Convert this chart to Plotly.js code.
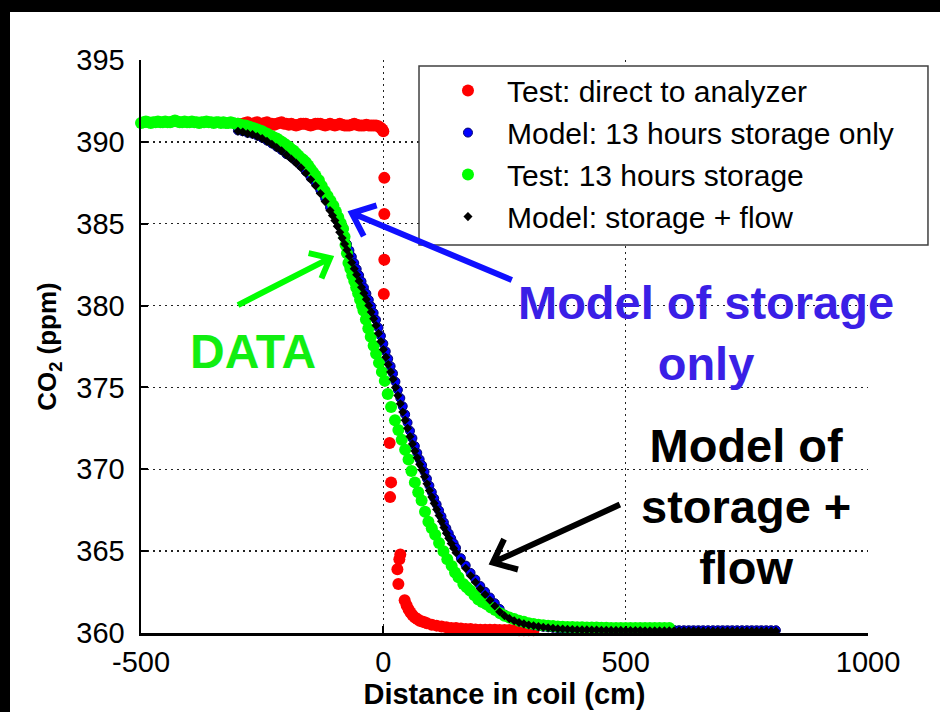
<!DOCTYPE html>
<html>
<head>
<meta charset="utf-8">
<script src="https://cdn.plot.ly/plotly-3.0.1.min.js"></script>
<style>
html,body{margin:0;padding:0;background:#000;width:940px;height:712px;overflow:hidden;}
#chart{position:absolute;left:10px;top:12px;width:930px;height:700px;background:#fff;}
</style>
</head>
<body>
<div id="chart"></div>
<script>
// ---- data ----
const redX = [-300,-295,-290,-285,-280,-275,-270,-265,-260,-255,-250,-245,-240,-235,-230,-225,-220,-215,-210,-205,
  -200,-195,-190,-185,-180,-175,-170,-165,-160,-155,-150,-145,-140,-135,-130,-125,-120,-115,-110,-105,
  -100,-95,-90,-85,-80,-75,-70,-65,-60,-55,-50,-45,-40,-35,-30,-25,-20,-15,-10,-5,-2,0,
  2,2,2,1,13,16,14,35,33,29,31,44,
  48,52,56,60,65,70,75,80,85,90,100,110,120,130,140,150,160,170,180,190,200,210,220,230,240,250,260,270,280,290,300,310];
const redY = [391.1,391.05,391.1,391.15,391.2,391.1,391.1,391.15,391.2,391.1,391.1,391.15,391.2,391.1,391.1,391.05,391.1,391.15,391.2,391.1,
  391.1,391.05,391.1,391.05,391.0,391.05,391.1,391.1,391.1,391.05,391.0,391.05,391.1,391.1,391.1,391.05,391.0,391.05,391.1,391.05,
  391.0,391.05,391.1,391.05,391.0,391.0,391.0,391.05,391.1,391.05,391.0,391.0,391.0,391.05,391.0,391.0,391.0,391.0,390.95,390.85,390.75,390.65,
  387.8,385.6,382.8,380.7,371.6,369.2,368.3,364.8,364.5,363.9,363.0,362.0,
  361.7,361.45,361.25,361.1,360.95,360.85,360.75,360.7,360.65,360.6,360.5,360.45,360.4,360.35,360.3,360.3,360.28,360.25,360.25,360.22,360.2,360.2,360.2,360.2,360.18,360.18,360.18,360.18,360.17,360.17,360.17,360.17];

const greenX = [-500,-495,-490,-485,-480,-475,-470,-465,-460,-455,-450,-445,-440,-435,-430,-425,-420,-415,-410,-405,
  -400,-395,-390,-385,-380,-375,-370,-365,-360,-355,-350,-345,-340,-335,-330,-325,-320,-315,-310,-305,-300,
  -295,-290,-285,-280,-275,-270,-265,-260,-255,-250,-245,-240,-235,-230,-225,-220,-215,-210,-205,-200,
  -195,-190,-185,-180,-175,-170,-165,-160,-155,-150,-145,
  -140,-133,-127,-121,-115,-109,-103,-98,-93,-88,-83,-80,-78,-75,-72,-68,-64,-60,-56,-52,-48,-44,-41,-36,-31,-26,-20,-15,-9,-3,
  3,9,16,24,31,38,45,52,58,65,72,79,86,93,100,107,115,124,132,141,148,155,165,172,179,188,196,204,213,222,231,241,250,
  260,270,280,290,300,310,320,330,340,350,360,370,380,390,400,410,420,430,440,450,460,470,480,490,500,510,520,530,540,550,560,570,580,590];
const greenY = [391.15,391.2,391.25,391.2,391.15,391.2,391.2,391.25,391.2,391.2,391.25,391.2,391.2,391.25,391.3,391.25,391.2,391.2,391.25,391.2,
  391.2,391.25,391.2,391.2,391.15,391.2,391.2,391.25,391.2,391.2,391.15,391.2,391.2,391.15,391.2,391.15,391.15,391.2,391.15,391.1,391.1,
  391.05,391.0,391.0,390.95,390.9,390.85,390.8,390.75,390.7,390.65,390.55,390.5,390.4,390.35,390.25,390.2,390.1,390.0,389.9,389.8,
  389.7,389.55,389.45,389.3,389.15,389.0,388.9,388.75,388.55,388.35,388.15,
  387.95,387.65,387.3,387.0,386.7,386.4,386.1,385.75,385.4,385.05,384.7,384.2,383.7,383.2,382.6,382.25,381.85,381.5,381.1,380.75,380.35,380.0,379.7,379.15,378.6,378.1,377.55,377.05,376.5,375.95,
  375.4,374.6,373.8,373.0,372.4,371.8,371.2,370.6,369.9,369.2,368.6,368.1,367.4,366.8,366.4,366.0,365.5,365.0,364.5,364.1,363.7,363.4,363.0,362.8,362.6,362.3,362.05,361.9,361.75,361.55,361.4,361.2,361.05,
  360.95,360.85,360.75,360.68,360.6,360.55,360.5,360.48,360.45,360.42,360.4,360.38,360.37,360.36,360.35,360.35,360.34,360.33,360.33,360.32,360.32,360.31,360.31,360.3,360.3,360.3,360.3,360.3,360.3,360.3,360.3,360.3,360.3,360.3];

const modelX = [-300,-290,-280,-270,-260,-250,-240,-230,-220,-210,-200,-190,-180,-170,-160,-150,-140,-130,-120,-110,
  -105,-100,-95,-90,-85,-80,-75,-70,-65,-60,-55,-50,-45,-40,-35,-30,-25,-20,-15,-10,-5,0,5,10,15,20,25,30,35,40,
  45,50,55,60,65,70,75,80,85,90,95,100,105,110,115,120,125,130,135,140,145,150,
  160,170,180,190,200,210,220,230,240,250,260,270,280,290,300,310,320,330,340,350,360,370,380,390,400,
  410,420,430,440,450,460,470,480,490,500,510,520,530,540,550,560,570,580,590,600,
  610,620,630,640,650,660,670,680,690,700,710,720,730,740,750,760,770,780,790,800,810];
const flowY = [390.65,390.6,390.5,390.45,390.33,390.2,390.03,389.85,389.65,389.45,389.2,388.95,388.7,388.42,388.08,387.7,387.32,386.85,386.35,385.8,
  385.5,385.2,384.85,384.48,384.12,383.76,383.4,383.02,382.63,382.25,381.88,381.5,381.12,380.75,380.38,380.0,379.6,379.2,378.78,378.3,
  377.8,377.32,376.85,376.4,375.95,375.5,375.0,374.5,374.0,373.5,
  373.0,372.5,372.0,371.55,371.12,370.7,370.3,369.95,369.55,369.12,368.7,368.3,367.92,367.55,367.18,366.82,366.45,366.1,365.78,365.47,365.18,364.9,
  364.4,363.95,363.5,363.1,362.7,362.35,362.0,361.65,361.3,361.05,360.88,360.75,360.64,360.56,360.49,360.44,360.39,360.35,360.32,360.29,360.26,360.24,360.23,360.21,360.2,
  360.19,360.19,360.18,360.18,360.17,360.17,360.16,360.16,360.16,360.15,360.15,360.15,360.15,360.14,360.14,360.14,360.14,360.14,360.13,360.13,
  360.13,360.13,360.13,360.13,360.13,360.12,360.12,360.12,360.12,360.12,360.12,360.12,360.12,360.12,360.12,360.12,360.12,360.12,360.12,360.12,360.12];
const storageY = [390.7,390.65,390.55,390.5,390.38,390.25,390.08,389.9,389.7,389.5,389.25,389.07,388.82,388.54,388.2,387.82,387.52,387.05,386.55,386.0,
  385.85,385.55,385.2,384.83,384.47,384.11,383.75,383.37,382.98,382.6,382.23,381.85,381.47,381.1,380.73,380.35,379.95,379.55,379.13,378.65,
  378.15,377.67,377.2,376.75,376.3,375.85,375.35,374.85,374.35,373.85,
  373.35,372.85,372.35,371.9,371.42,371.0,370.6,370.25,369.85,369.42,369.0,368.6,368.22,367.85,367.48,367.12,366.75,366.4,366.08,365.77,365.48,365.2,
  364.57,364.12,363.67,363.27,362.87,362.52,362.17,361.82,361.47,361.13,360.96,360.83,360.72,360.64,360.57,360.47,360.42,360.38,360.35,360.32,360.29,360.27,360.26,360.24,360.23,
  360.22,360.22,360.21,360.21,360.2,360.2,360.19,360.19,360.19,360.18,360.18,360.18,360.18,360.18,360.18,360.18,360.18,360.18,360.18,360.18,
  360.17,360.17,360.17,360.17,360.17,360.17,360.17,360.17,360.17,360.17,360.17,360.17,360.17,360.17,360.17,360.17,360.17,360.17,360.17,360.17,360.17];

const seriesNames = ['Test: direct to analyzer','Model: 13 hours storage only','Test: 13 hours storage','Model: storage + flow'];
const xTicks = [-500,0,500,1000];
const yTicks = [360,365,370,375,380,385,390,395];

const FONT = 'Liberation Sans, Arial, Helvetica, sans-serif';

const traces = [
  {x: redX, y: redY, name: seriesNames[0], type:'scatter', mode:'markers', cliponaxis:false,
   marker:{color:'#ff0000', size:12, line:{width:0}}},
  {x: modelX, y: storageY, name: seriesNames[1], type:'scatter', mode:'markers', cliponaxis:false,
   marker:{color:'#0000ff', size:9, line:{color:'#000070', width:1}}},
  {x: greenX, y: greenY, name: seriesNames[2], type:'scatter', mode:'markers', cliponaxis:false,
   marker:{color:'#00ff00', size:12, line:{width:0}}},
  {x: modelX, y: flowY, name: seriesNames[3], type:'scatter', mode:'markers', cliponaxis:false,
   marker:{color:'#000000', size:7, symbol:'diamond', line:{width:0}}}
];

const axisCommon = {
  showline:true, linecolor:'#000', linewidth:2.5, mirror:false,
  ticks:'inside', ticklen:7, tickwidth:2, tickcolor:'#000',
  showgrid:true, gridcolor:'#222', gridwidth:1.5, griddash:'1.5px,4.5px',
  zeroline:false, tickfont:{family:FONT, size:29, color:'#000'},
  automargin:false
};

// arrow shapes: paths in pixels relative to the arrow tip
function arrow(tipX, tipY, path, color){
  return {type:'path', xref:'x', yref:'y', xsizemode:'pixel', ysizemode:'pixel',
    xanchor:tipX, yanchor:tipY, path:path, line:{color:color, width:6}, layer:'above'};
}

const layout = {
  width:930, height:700,
  margin:{l:131, r:72, t:48, b:79},
  paper_bgcolor:'#fff', plot_bgcolor:'#fff',
  showlegend:true,
  font:{family:FONT, color:'#000'},
  xaxis: Object.assign({}, axisCommon, {
    range:[-500,1000], tickvals:xTicks, ticktext:xTicks.map(String), ticklabelstandoff:2,
    title:{text:'<b>Distance in coil (cm)</b>', font:{family:FONT, size:29, color:'#000'}, standoff:0}
  }),
  yaxis: Object.assign({}, axisCommon, {
    range:[360,395], tickvals:yTicks, ticktext:yTicks.map(String), ticklabelstandoff:8,
    title:{text:'<b>CO<sub>2</sub> (ppm)</b>', font:{family:FONT, size:26, color:'#000'}, standoff:12}
  }),
  legend:{
    x:0.3961, y:0.992, xanchor:'left', yanchor:'top',
    bgcolor:'rgba(0,0,0,0)', borderwidth:0, itemwidth:68,
    font:{family:FONT, size:30, color:'#000'}
  },
  shapes:[
    {type:'rect', xref:'paper', yref:'paper', x0:0.3824, x1:1.0825, y0:0.6771, y1:0.9895,
     fillcolor:'#fff', line:{color:'#404040', width:1.5}, layer:'above'},
    arrow(-110, 382.9, 'M-92,-47 L0,0 M-8.6,-20.3 L0,0 L-21.4,4.9', '#00ff00'),
    arrow(-65, 385.65, 'M160,-67 L0,0 M24.8,7.7 L0,0 L11.9,-23.1', '#1010ff'),
    arrow(226, 364.3, 'M127,58 L0,0 M11.2,23.5 L0,0 L25.1,-6.9', '#000000')
  ],
  annotations:[
    {xref:'x', yref:'y', x:-269, y:377.2, text:'<b>DATA</b>', showarrow:false,
     font:{family:FONT, size:48, color:'#11ee11'}},
    {xref:'x', yref:'y', x:666, y:378.3, text:'<b>Model of storage<br>only</b>', showarrow:false,
     font:{family:FONT, size:47, color:'#3a1fe6'}},
    {xref:'x', yref:'y', x:748, y:367.75, text:'<b>Model of<br>storage +<br>flow</b>', showarrow:false,
     font:{family:FONT, size:47, color:'#000'}}
  ]
};

Plotly.newPlot('chart', traces, layout, {displayModeBar:false, staticPlot:true});
</script>
</body>
</html>
